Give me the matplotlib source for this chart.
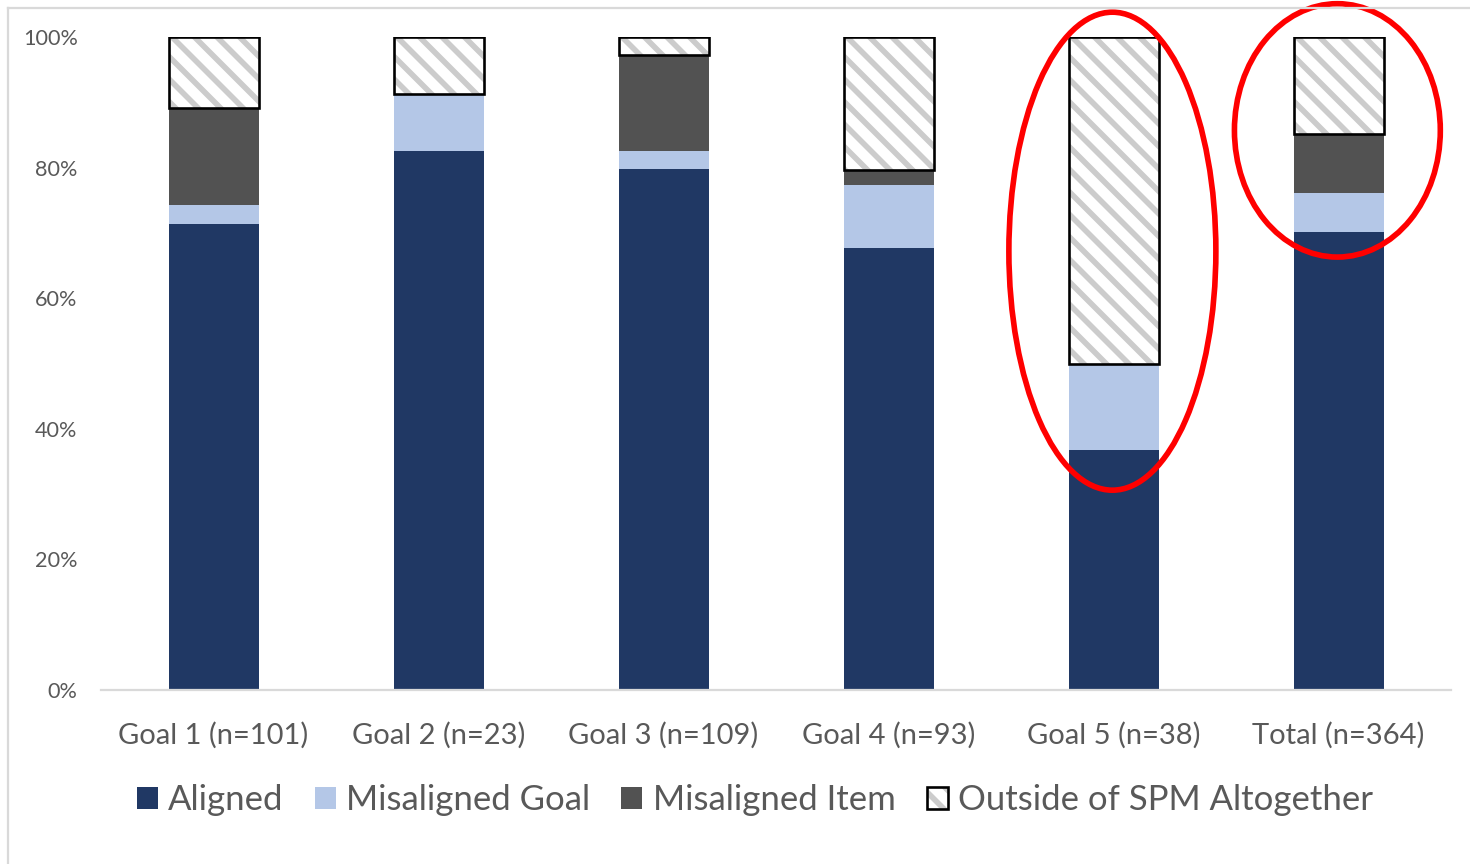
import matplotlib
matplotlib.use("Agg")
import matplotlib.pyplot as plt
from matplotlib.patches import Ellipse
from matplotlib.lines import Line2D
from matplotlib.legend_handler import HandlerTuple
import numpy as np

categories = ["Goal 1 (n=101)", "Goal 2 (n=23)", "Goal 3 (n=109)",
              "Goal 4 (n=93)", "Goal 5 (n=38)", "Total (n=364)"]
aligned = [71.3, 82.6, 79.8, 67.7, 36.8, 70.1]
misaligned_goal = [3.0, 8.7, 2.8, 9.7, 13.2, 6.0]
misaligned_item = [14.8, 0.0, 14.6, 2.2, 0.0, 9.1]
outside = [10.9, 8.7, 2.8, 20.4, 50.0, 14.8]
series_names = ["Aligned", "Misaligned Goal", "Misaligned Item", "Outside of SPM Altogether"]
yticks = [0, 20, 40, 60, 80, 100]
ytick_labels = ["0%", "20%", "40%", "60%", "80%", "100%"]
highlighted = [4, 5]

DPI = 135
plt.rcParams['font.family'] = ['Lato', 'DejaVu Sans']
plt.rcParams['hatch.linewidth'] = 3.0
TXT = '#595959'

fig = plt.figure(figsize=(1470 / DPI, 864 / DPI), dpi=DPI)
ax = fig.add_axes([101 / 1470, 1 - 690 / 864, 1350 / 1470, 653 / 864])

x = np.arange(len(categories))
w = 0.4
c_al, c_mg, c_mi = '#203864', '#b4c7e7', '#525252'
b1 = ax.bar(x, aligned, w, color=c_al, label=series_names[0], zorder=2)
bottom = np.array(aligned)
b2 = ax.bar(x, misaligned_goal, w, bottom=bottom, color=c_mg, label=series_names[1], zorder=2)
bottom = bottom + np.array(misaligned_goal)
b3 = ax.bar(x, misaligned_item, w, bottom=bottom, color=c_mi, label=series_names[2], zorder=2)
bottom = bottom + np.array(misaligned_item)
b4h = ax.bar(x, outside, w, bottom=bottom, facecolor='white', edgecolor='#cccccc',
             hatch='\\\\', linewidth=0, zorder=3)
b4e = ax.bar(x, outside, w, bottom=bottom, fill=False, edgecolor='black',
             linewidth=1.4, zorder=4)

ax.set_xlim(-0.5, len(categories) - 0.5)
ax.set_ylim(0, 100)
ax.set_yticks(yticks)
ax.set_yticklabels(ytick_labels, fontsize=11.5, color=TXT)
ax.set_xticks(x)
ax.set_xticklabels(categories, fontsize=15.5, color=TXT)
ax.tick_params(axis='y', length=0, pad=12.5)
ax.tick_params(axis='x', length=0, pad=17)
for s in ['top', 'right', 'left']:
    ax.spines[s].set_visible(False)
ax.spines['bottom'].set_color('#d9d9d9')
ax.spines['bottom'].set_linewidth(1.2)

# highlight ellipses
ell_specs = {4: (67.2, 73.2, 0.92), 5: (85.7, 38.8, 0.915)}
for i in highlighted:
    cy, h, ew = ell_specs[i]
    e = Ellipse((x[i] - 0.005, cy), ew, h, fill=False, edgecolor='red',
                linewidth=3.0, clip_on=False, zorder=5)
    ax.add_patch(e)

leg = fig.legend(handles=[b1, b2, b3, (b4h, b4e)], labels=series_names, loc='center',
                 bbox_to_anchor=(755 / 1470, 1 - 800 / 864), ncol=4, frameon=False,
                 fontsize=18.5, handlelength=0.6, handleheight=0.6, handletextpad=0.3,
                 columnspacing=0.9, handler_map={tuple: HandlerTuple(ndivide=1)})
for t in leg.get_texts():
    t.set_color(TXT)

# chart-area border (top and left)
fig.add_artist(Line2D([8 / 1470, 1], [1 - 8 / 864, 1 - 8 / 864], color='#d9d9d9', lw=1.2,
                      transform=fig.transFigure))
fig.add_artist(Line2D([8 / 1470, 8 / 1470], [0, 1 - 8 / 864], color='#d9d9d9', lw=1.2,
                      transform=fig.transFigure))

fig.savefig('out.png', dpi=DPI, facecolor='white')
